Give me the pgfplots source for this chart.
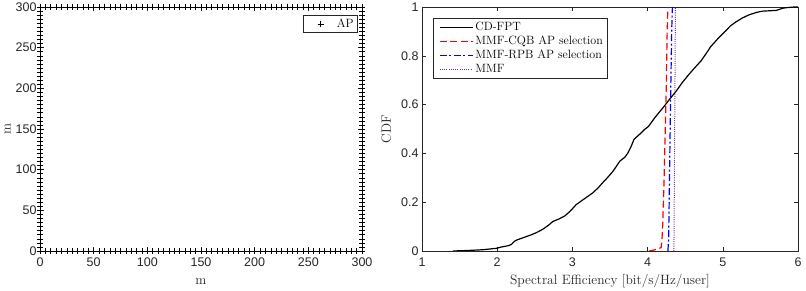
\documentclass[border=0pt]{standalone}
\usepackage{fontspec}
\setsansfont{Liberation Sans}
\usepackage{pgfplots}
\pgfplotsset{compat=1.18}
\definecolor{axgray}{RGB}{38,38,38}
\definecolor{mpurple}{RGB}{126,47,142}
\pgfplotsset{
  every axis/.append style={
    scale only axis,
    axis line style={draw=axgray, line width=0.5pt},
    tick style={draw=axgray, line width=0.5pt},
    major tick length=4pt,
    tick align=inside,
    ticklabel style={font=\fontsize{12.5}{14}\sffamily, text=axgray},
    xticklabel style={yshift=-3pt},
    /pgf/number format/assume math mode=true,
    label style={font=\fontsize{13.5}{15}\selectfont, text=axgray},
    xlabel style={text height=10pt, text depth=3.5pt, yshift=-1pt},
    legend style={font=\fontsize{12}{14}\selectfont, draw=axgray, line width=0.5pt, inner sep=2pt, row sep=0pt},
    legend cell align=left,
  },
  aplegend/.style={legend image code/.code={\path (0pt,0pt) (30pt,0pt); \draw[##1] plot coordinates {(16pt,0pt)};}},
}
\begin{document}
\begin{tikzpicture}
\path[use as bounding box] (0,0) rectangle (806pt,291pt);
\begin{axis}[
  at={(40pt,40pt)}, anchor=south west,
  width=322pt, height=244pt,
  xmin=0, xmax=300, ymin=0, ymax=300,
  xtick={0,50,...,300}, ytick={0,50,...,300},
  xlabel={m}, ylabel={m},
  ylabel style={yshift=-2pt},
  clip=false,
  legend style={at={(0.986,0.967)}, anchor=north east, inner sep=1.5pt},
]
\addplot[only marks, mark=+, mark size=3pt, line width=0.5pt, black, aplegend] coordinates {
(0,0)(5,0)(10,0)(15,0)(20,0)(25,0)(30,0)(35,0)(40,0)(45,0)(50,0)(55,0)(60,0)(65,0)(70,0)(75,0)(80,0)(85,0)(90,0)(95,0)(100,0)(105,0)(110,0)(115,0)(120,0)(125,0)(130,0)(135,0)(140,0)(145,0)(150,0)(155,0)(160,0)(165,0)(170,0)(175,0)(180,0)(185,0)(190,0)(195,0)(200,0)(205,0)(210,0)(215,0)(220,0)(225,0)(230,0)(235,0)(240,0)(245,0)(250,0)(255,0)(260,0)(265,0)(270,0)(275,0)(280,0)(285,0)(290,0)(295,0)(300,0)
(0,300)(5,300)(10,300)(15,300)(20,300)(25,300)(30,300)(35,300)(40,300)(45,300)(50,300)(55,300)(60,300)(65,300)(70,300)(75,300)(80,300)(85,300)(90,300)(95,300)(100,300)(105,300)(110,300)(115,300)(120,300)(125,300)(130,300)(135,300)(140,300)(145,300)(150,300)(155,300)(160,300)(165,300)(170,300)(175,300)(180,300)(185,300)(190,300)(195,300)(200,300)(205,300)(210,300)(215,300)(220,300)(225,300)(230,300)(235,300)(240,300)(245,300)(250,300)(255,300)(260,300)(265,300)(270,300)(275,300)(280,300)(285,300)(290,300)(295,300)(300,300)
(0,5)(0,10)(0,15)(0,20)(0,25)(0,30)(0,35)(0,40)(0,45)(0,50)(0,55)(0,60)(0,65)(0,70)(0,75)(0,80)(0,85)(0,90)(0,95)(0,100)(0,105)(0,110)(0,115)(0,120)(0,125)(0,130)(0,135)(0,140)(0,145)(0,150)(0,155)(0,160)(0,165)(0,170)(0,175)(0,180)(0,185)(0,190)(0,195)(0,200)(0,205)(0,210)(0,215)(0,220)(0,225)(0,230)(0,235)(0,240)(0,245)(0,250)(0,255)(0,260)(0,265)(0,270)(0,275)(0,280)(0,285)(0,290)(0,295)
(300,5)(300,10)(300,15)(300,20)(300,25)(300,30)(300,35)(300,40)(300,45)(300,50)(300,55)(300,60)(300,65)(300,70)(300,75)(300,80)(300,85)(300,90)(300,95)(300,100)(300,105)(300,110)(300,115)(300,120)(300,125)(300,130)(300,135)(300,140)(300,145)(300,150)(300,155)(300,160)(300,165)(300,170)(300,175)(300,180)(300,185)(300,190)(300,195)(300,200)(300,205)(300,210)(300,215)(300,220)(300,225)(300,230)(300,235)(300,240)(300,245)(300,250)(300,255)(300,260)(300,265)(300,270)(300,275)(300,280)(300,285)(300,290)(300,295)
};
\addlegendentry{AP}
\end{axis}
\begin{axis}[
  at={(422pt,40pt)}, anchor=south west,
  width=376pt, height=244pt,
  xmin=1, xmax=6, ymin=0, ymax=1,
  xtick={1,2,...,6}, ytick={0,0.2,...,1},
  yticklabels={0,0.2,0.4,0.6,0.8,1},
  xlabel={Spectral Efficiency [bit/s/Hz/user]}, ylabel={CDF},
  ylabel shift=3pt,
  legend style={at={(0.029,0.955)}, anchor=north west},
  legend image code/.code={\path (0pt,0pt); \draw[#1] (4pt,0pt) -- (37pt,0pt);},
]
\addplot[black, line width=1.2pt] coordinates {
(1.41,0) (1.6,0.002) (1.8,0.005) (1.99,0.011) (2.05,0.016) (2.15,0.022) (2.19,0.027) (2.23,0.04) (2.26,0.045) (2.35,0.055) (2.45,0.066) (2.52,0.075) (2.6,0.088) (2.68,0.105) (2.74,0.121) (2.82,0.131) (2.90,0.144) (2.97,0.163) (3.05,0.19) (3.15,0.212) (3.27,0.238) (3.34,0.258) (3.40,0.279) (3.47,0.302) (3.54,0.327) (3.58,0.345) (3.63,0.368) (3.70,0.385) (3.74,0.403) (3.78,0.428) (3.82,0.458) (3.90,0.48) (3.96,0.498) (4.01,0.51) (4.1,0.548) (4.22,0.593) (4.3,0.625) (4.38,0.655) (4.46,0.69) (4.55,0.724) (4.63,0.752) (4.71,0.779) (4.78,0.81) (4.84,0.838) (4.94,0.872) (5.04,0.903) (5.1,0.922) (5.17,0.938) (5.26,0.955) (5.35,0.968) (5.45,0.978) (5.53,0.983) (5.71,0.986) (5.8,0.995) (5.84,0.997) (5.95,1) (6.0,1)
};
\addlegendentry{CD-FPT}
\addplot[red, line width=1.2pt, dash pattern=on 7pt off 3.5pt] coordinates {
(4.02,0) (4.1,0.005) (4.18,0.014) (4.19,0.04) (4.2,0.1) (4.22,0.3) (4.235,0.5) (4.25,0.7) (4.26,0.9) (4.27,1)
};
\addlegendentry{MMF-CQB AP selection}
\addplot[blue, line width=1.2pt, dash pattern=on 7pt off 2.5pt on 2pt off 2.5pt] coordinates {
(4.27,0) (4.28,0.05) (4.30,0.5) (4.32,0.9) (4.33,1)
};
\addlegendentry{MMF-RPB AP selection}
\addplot[mpurple, line width=1.0pt, dash pattern=on 1pt off 1.2pt] coordinates {
(4.35,0) (4.36,0.5) (4.37,1)
};
\addlegendentry{MMF}
\end{axis}
\end{tikzpicture}
\end{document}
